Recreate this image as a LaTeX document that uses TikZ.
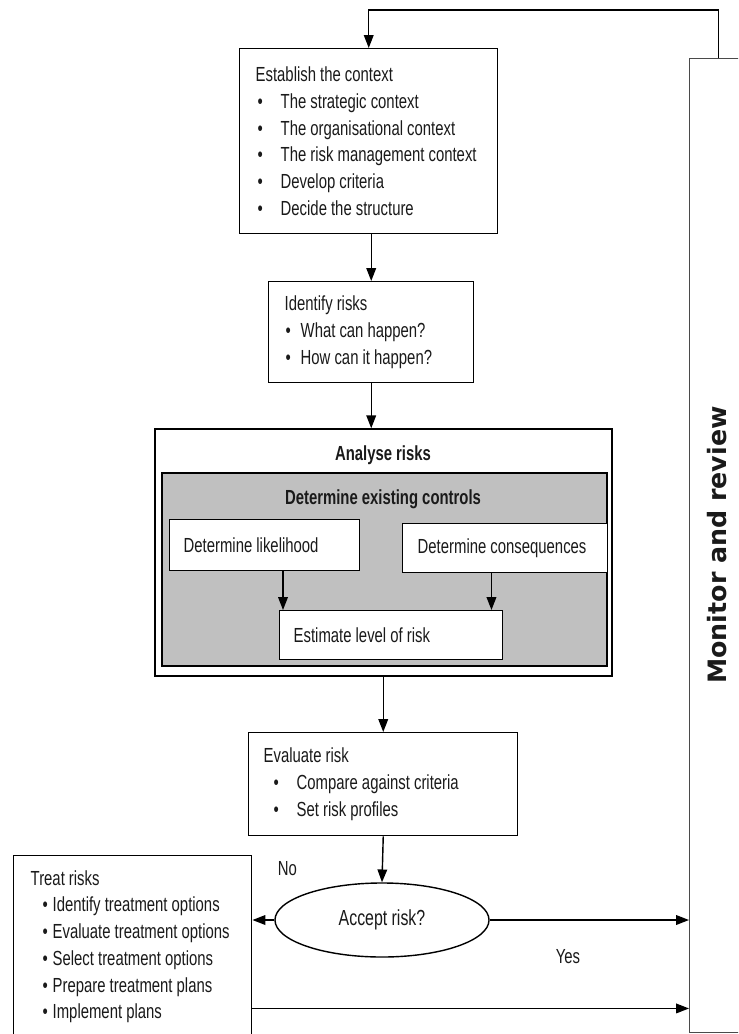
\documentclass[tikz,border=0pt]{standalone}
\usepackage{fontspec}
\setmainfont{Liberation Sans}[FakeStretch=0.73]
\newfontfamily\monitorfont{DejaVu Sans}
\usetikzlibrary{arrows.meta, positioning, shapes.geometric, calc}
\definecolor{ctrlgray}{HTML}{C0C0C0}
\definecolor{inkblack}{HTML}{1A1A1A}
\definecolor{framegray}{HTML}{4A4A4A}
\newcommand{\bpoint}[2]{\hspace*{#1}\makebox[#2][l]{\textbullet}}
\newcommand{\narrowtext}[1]{\fontsize{#1}{19}\selectfont\spaceskip=0.2em\relax}

\begin{document}
\begin{tikzpicture}[
    x=0.025cm, y=-0.025cm,
    box/.style={draw, fill=white, line width=1pt, align=flush left, inner ysep=0pt, font=\narrowtext{14.5}, text=inkblack},
    panel/.style={draw, line width=1pt, inner sep=0pt},
    head/.style={font=\narrowtext{14.5}\bfseries, text=inkblack},
    arr/.style={-{Triangle[length=3.2mm, width=2.4mm]}, line width=1pt},
    lbl/.style={font=\narrowtext{14.5}, text=inkblack},
]
    \useasboundingbox (0,0) rectangle (738,1034);
    \clip (0,0) rectangle (738,1034);

    % Establish
    \node[box, anchor=north west, text width=5.65cm, minimum height=4.625cm, inner xsep=0.4cm] (establish) at (239,48)
        {Establish the context\\
         \bpoint{0.05cm}{0.575cm}The strategic context\\
         \bpoint{0.05cm}{0.575cm}The organisational context\\
         \bpoint{0.05cm}{0.575cm}The risk management context\\
         \bpoint{0.05cm}{0.575cm}Develop criteria\\
         \bpoint{0.05cm}{0.575cm}Decide the structure};

    % Identify
    \node[box, anchor=north west, text width=4.325cm, minimum height=2.525cm, inner xsep=0.4cm] (identify) at (268,281)
        {Identify risks\\
         \bpoint{0.025cm}{0.375cm}What can happen?\\
         \bpoint{0.025cm}{0.375cm}How can it happen?};

    % Analyse
    \node[panel, fill=white, minimum width=11.425cm, minimum height=6.175cm] (analyse) at (383.5,552.5) {};
    \node[head] (analysetitle) at (383,455) {Analyse risks};
    \node[panel, fill=ctrlgray, minimum width=11.125cm, minimum height=4.825cm] (controls) at (384.5,569.5) {};
    \node[head] (controlstitle) at (383,499) {Determine existing controls};
    \node[box, anchor=north west, text width=4.05cm, minimum height=1.275cm, inner xsep=0.35cm] (likelihood) at (169,519) {Determine likelihood};
    \node[box, anchor=north west, text width=4.375cm, minimum height=1.225cm, inner xsep=0.375cm] (consequences) at (402,523) {Determine consequences};
    \node[box, anchor=north west, text width=4.875cm, minimum height=1.225cm, inner xsep=0.35cm] (estimate) at (279,610) {Estimate level of risk};

    % Evaluate
    \node[box, anchor=north west, text width=5.975cm, minimum height=2.575cm, inner xsep=0.375cm] (evaluate) at (248,732)
        {Evaluate risk\\
         \bpoint{0.25cm}{0.575cm}Compare against criteria\\
         \bpoint{0.25cm}{0.575cm}Set risk profiles};

    % Decision
    \node[draw, ellipse, line width=1pt, fill=white, minimum width=5.35cm, minimum height=1.85cm, inner sep=0pt,
          font=\narrowtext{15.5}, text=inkblack] (accept) at (382,920) {Accept risk?};

    % Treat
    \node[box, anchor=north west, text width=5.1cm, minimum height=4.55cm, inner xsep=0.425cm] (treat) at (13,855)
        {Treat risks\\
         \bpoint{0.3cm}{0.25cm}Identify treatment options\\
         \bpoint{0.3cm}{0.25cm}Evaluate treatment options\\
         \bpoint{0.3cm}{0.25cm}Select treatment options\\
         \bpoint{0.3cm}{0.25cm}Prepare treatment plans\\
         \bpoint{0.3cm}{0.25cm}Implement plans};

    % Monitor
    \node[panel, draw=framegray, line width=0.8pt, anchor=north west, minimum width=1.45cm, minimum height=24.35cm] (monitor) at (689,58) {};
    \node[rotate=90, font=\monitorfont\fontsize{18}{20}\selectfont\bfseries, text=inkblack] (monitortext) at (717,545) {Monitor and review};

    % Flows
    \draw[arr] (monitor.north) -- ++(0,-48) -| (establish.north);
    \draw[arr] (identify.north |- establish.south) -- (identify.north);
    \draw[arr] (identify.south) -- (identify.south |- analyse.north);
    \draw[arr] ([xshift=0.1cm]likelihood.south -| estimate.west) -- ([xshift=0.1cm]estimate.north west);
    \draw[arr] ([xshift=-0.3cm]consequences.south -| estimate.east) -- ([xshift=-0.3cm]estimate.north east);
    \draw[arr] (evaluate.north |- analyse.south) -- (evaluate.north);
    \draw[arr] (evaluate.south) -- (accept.north);

    % Decision outcomes
    \draw[arr] (accept.west) -- (accept.west -| treat.east);
    \draw[arr] (accept.east) -- (accept.east -| monitor.west);
    \draw[arr] ([yshift=0.75cm]treat.south east) -- ([yshift=0.75cm]treat.south east -| monitor.west);
    \node[lbl, anchor=west] (nolbl) at (273,869) {No};
    \node[lbl] (yeslbl) at (568,957) {Yes};

\end{tikzpicture}
\end{document}
